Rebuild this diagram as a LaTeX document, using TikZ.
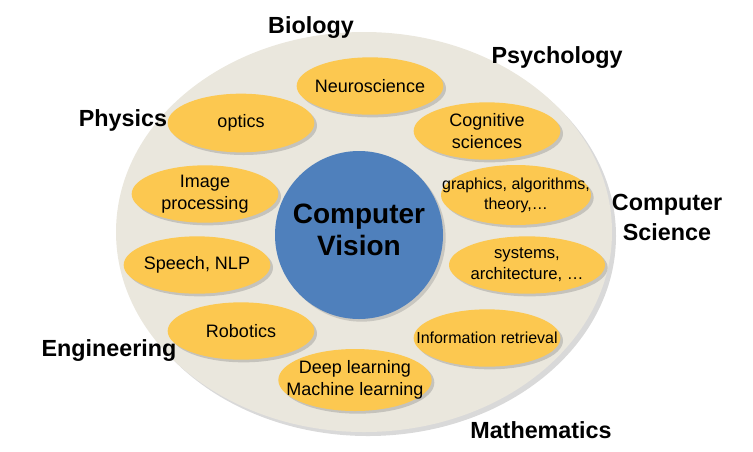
\documentclass[tikz,border=0pt]{standalone}
\usepackage{fontspec}
\setmainfont{Liberation Sans}
\usepackage{xcolor}
\usetikzlibrary{shapes.geometric, shadows}

\definecolor{fieldgray}{RGB}{234,231,221}
\definecolor{topicorange}{RGB}{252,200,80}
\definecolor{visionblue}{RGB}{79,128,188}

\begin{document}
\begin{tikzpicture}[x=0.75pt, y=-0.75pt,
    topic/.style={ellipse, fill=topicorange, minimum width=110pt, minimum height=43pt,
      drop shadow={shadow xshift=2pt, shadow yshift=-2pt, opacity=0.35}},
    topictext/.style={align=center, font=\fontsize{13.5}{16.5}\selectfont},
    smalltext/.style={align=center, font=\fontsize{12}{15}\selectfont},
    discipline/.style={align=center, font=\bfseries\fontsize{17.5}{22.5}\selectfont}]
    \useasboundingbox (0,0) rectangle (753,451);
    % outer field and centre
    \node[ellipse, fill=fieldgray, minimum width=372pt, minimum height=300pt,
      drop shadow={shadow xshift=3pt, shadow yshift=-3pt, opacity=0.3}] (field) at (364,232) {};
    \node[circle, fill=visionblue, minimum size=126pt,
      drop shadow={shadow xshift=2pt, shadow yshift=-2pt, opacity=0.3}] (cv) at (359,235) {};
    \node[align=center, font=\bfseries\fontsize{21}{24}\selectfont] (cvtext) at (359,230) {Computer\\Vision};

    % topics
    \node[topic] (neuro) at (370,86) {};
    \node[topictext] at (neuro) {Neuroscience};
    \node[topic, minimum height=44pt] (optics) at (241,123) {};
    \node[topictext] at (optics) {optics};
    \node[topic] (cogsci) at (487,131) {};
    \node[topictext] at (cogsci) {Cognitive\\sciences};
    \node[topic] (imgproc) at (205,194) {};
    \node[topictext] at (imgproc) {Image\\processing};
    \node[topic, minimum width=112.5pt, minimum height=45pt] (graphics) at (516,195) {};
    \node[smalltext] at (graphics) {graphics, algorithms,\\theory,\dots};
    \node[topic] (speech) at (197,265) {};
    \node[topictext] at (speech) {Speech, NLP};
    \node[topic, minimum width=117pt] (systems) at (527,265) {};
    \node[smalltext, font=\fontsize{12.5}{16}\selectfont] at (systems) {systems,\\architecture, \dots};
    \node[topic] (robotics) at (241,331) {};
    \node[topictext] at (robotics) {Robotics};
    \node[topic] (inforet) at (487,338) {};
    \node[smalltext] at (inforet) {Information retrieval};
    \node[topic, minimum width=115pt, minimum height=46.5pt] (learning) at (355,380) {};
    \node[topictext] at (learning) {Deep learning\\Machine learning};

    % disciplines
    \node[discipline] (biology) at (311,28) {Biology};
    \node[discipline] (psychology) at (557,58) {Psychology};
    \node[discipline] (physics) at (123,120) {Physics};
    \node[discipline] (compsci) at (667,217) {Computer\\Science};
    \node[discipline] (engineering) at (109,351) {Engineering};
    \node[discipline] (maths) at (541,430) {Mathematics};
\end{tikzpicture}
\end{document}
